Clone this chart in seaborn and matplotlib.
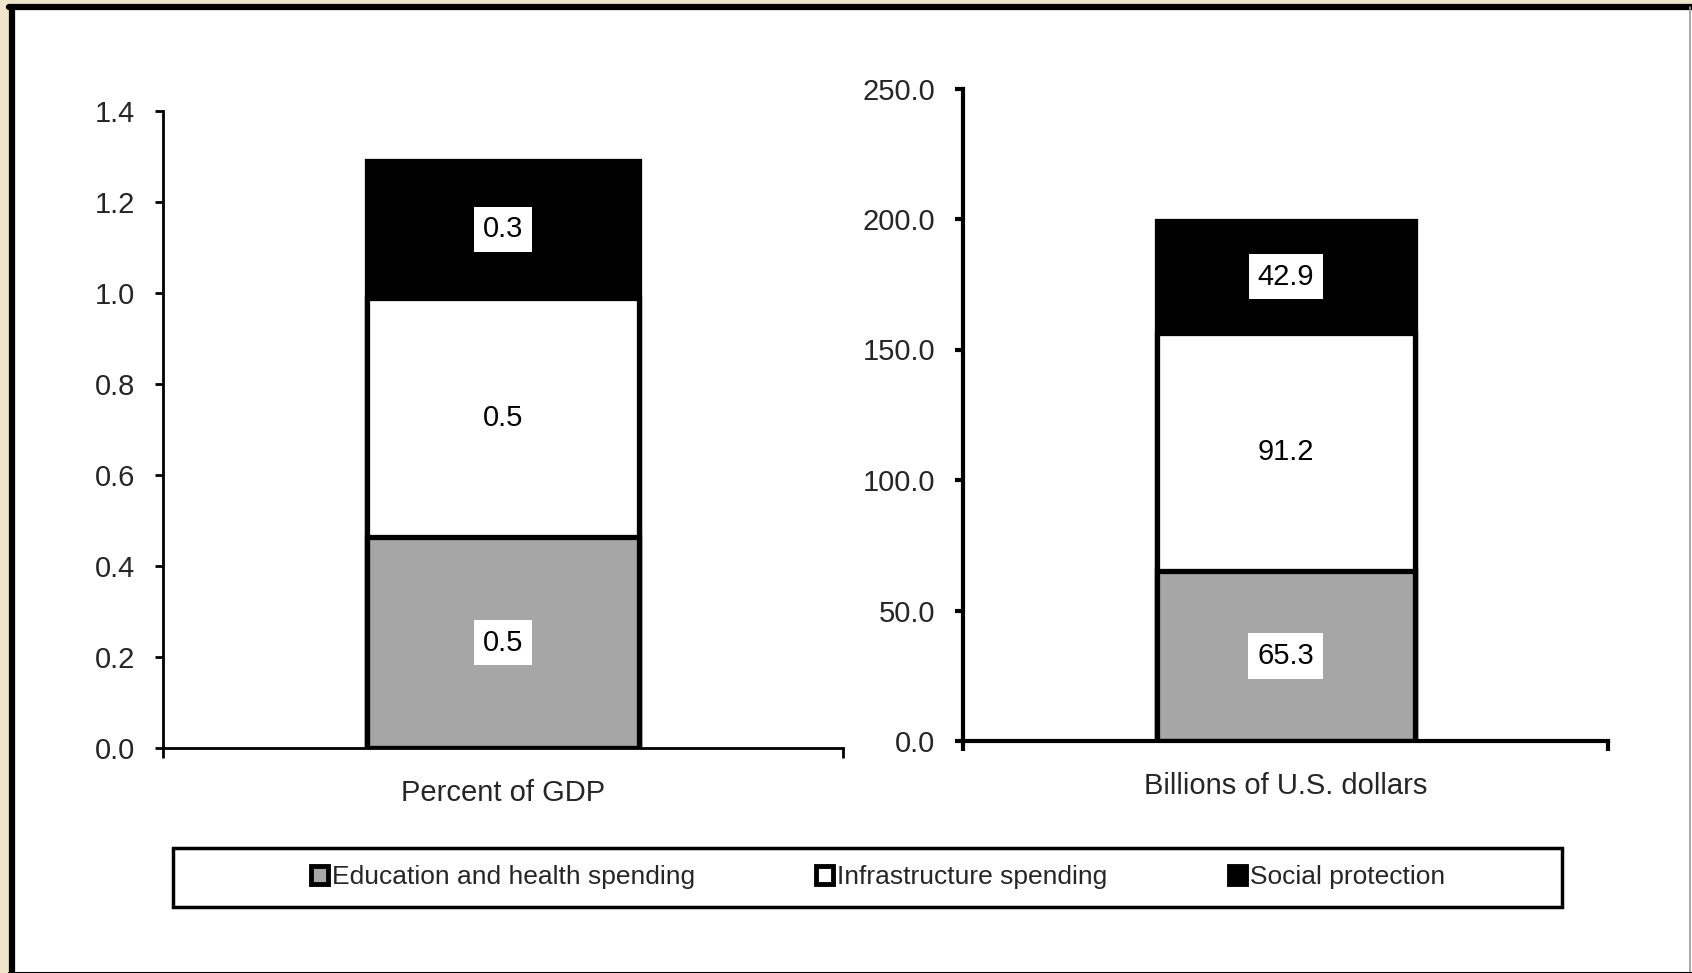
import matplotlib
matplotlib.use('Agg')
import matplotlib.pyplot as plt
from matplotlib.patches import Patch, Rectangle
from matplotlib.lines import Line2D
import numpy as np
import pandas as pd
import seaborn as sns

# data
series = ['Education and health spending', 'Infrastructure spending', 'Social protection']
colors = ['#A6A6A6', '#FFFFFF', '#000000']

gdp_cat = 'Percent of GDP'
gdp_values = [0.463, 0.526, 0.302]
gdp_labels = ['0.5', '0.5', '0.3']
gdp_ticks = [0.0, 0.2, 0.4, 0.6, 0.8, 1.0, 1.2, 1.4]

usd_cat = 'Billions of U.S. dollars'
usd_values = [65.3, 91.2, 42.9]
usd_labels = ['65.3', '91.2', '42.9']
usd_ticks = [0.0, 50.0, 100.0, 150.0, 200.0, 250.0]

sns.set_theme(style='white')
plt.rcParams['font.family'] = ['Liberation Sans', 'DejaVu Sans']

W, H = 1692, 973
fig = plt.figure(figsize=(W / 100, H / 100), dpi=100, facecolor='#EFE5CB')

# white panel with frame lines
fig.patches.append(Rectangle((9 / W, 0), 1 - 9 / W, 1 - 4 / H, transform=fig.transFigure,
                             facecolor='white', edgecolor='none', zorder=-10))
fig.add_artist(Line2D([12 / W, 12 / W], [0, 1 - 7 / H], color='black', lw=4.5, transform=fig.transFigure))
fig.add_artist(Line2D([9 / W, 1], [1 - 7 / H, 1 - 7 / H], color='black', lw=4.5, transform=fig.transFigure))
fig.add_artist(Line2D([1690 / W, 1690 / W], [0, 1 - 7 / H], color='#999999', lw=1.2, transform=fig.transFigure))
fig.add_artist(Line2D([9 / W, 1], [0.5 / H, 0.5 / H], color='black', lw=1.5, transform=fig.transFigure))


def stacked(ax, cat, values, labels, ticks, spine_w):
    cum = np.cumsum(values)
    # draw cumulative totals from the top down so the lower segments overlay
    for i in range(len(values) - 1, -1, -1):
        df = pd.DataFrame({'cat': [cat], 'val': [cum[i]]})
        sns.barplot(data=df, x='cat', y='val', ax=ax, color=colors[i], width=0.4,
                    edgecolor='black', linewidth=3.8, saturation=1, errorbar=None)
    bottoms = cum - np.array(values)
    for v, b, lab in zip(values, bottoms, labels):
        ax.text(0, b + v / 2, lab, ha='center', va='center', fontsize=21, color='black',
                bbox=dict(boxstyle='square,pad=0.3', facecolor='white', edgecolor='none'))
    ax.set_xlim(-0.5, 0.5)
    ax.set_ylim(ticks[0], ticks[-1])
    ax.set_yticks(ticks)
    ax.set_yticklabels([f'{t:.1f}' for t in ticks], fontsize=21)
    ax.set_xlabel('')
    ax.set_ylabel('')
    ax.set_facecolor('none')
    ax.set_zorder(2)
    for s in ['top', 'right']:
        ax.spines[s].set_visible(False)
    for s in ['left', 'bottom']:
        ax.spines[s].set_color('black')
        ax.spines[s].set_linewidth(spine_w)
    ax.tick_params(axis='y', direction='out', length=6, width=spine_w, color='black', pad=14, left=True)
    ax.tick_params(axis='x', which='major', length=0, pad=22, labelsize=21)
    ax.set_xticks([-0.5, 0.5], minor=True)
    ax.tick_params(axis='x', which='minor', direction='out', length=7, width=spine_w, color='black', bottom=True)


ax1 = fig.add_axes([163 / W, 1 - 748 / H, (843 - 163) / W, (748 - 111) / H])
stacked(ax1, gdp_cat, gdp_values, gdp_labels, gdp_ticks, 2.0)

ax2 = fig.add_axes([963 / W, 1 - 741 / H, (1608 - 963) / W, (741 - 88.5) / H])
stacked(ax2, usd_cat, usd_values, usd_labels, usd_ticks, 3.0)

# legend box
fig.patches.append(Rectangle((173 / W, 1 - 907 / H), (1562 - 173) / W, 59 / H, transform=fig.transFigure,
                             facecolor='white', edgecolor='black', linewidth=2.5, zorder=1))
handles = [Patch(facecolor=c, edgecolor='black', linewidth=3.5) for c in colors]
fig.legend(handles, series, loc='center', bbox_to_anchor=(878 / W, 1 - 877 / H), ncol=3,
           frameon=False, fontsize=19, handlelength=0.65, handleheight=0.65, handletextpad=0.15,
           columnspacing=4.6)

fig.savefig('out.png', dpi=100, facecolor=fig.get_facecolor())
